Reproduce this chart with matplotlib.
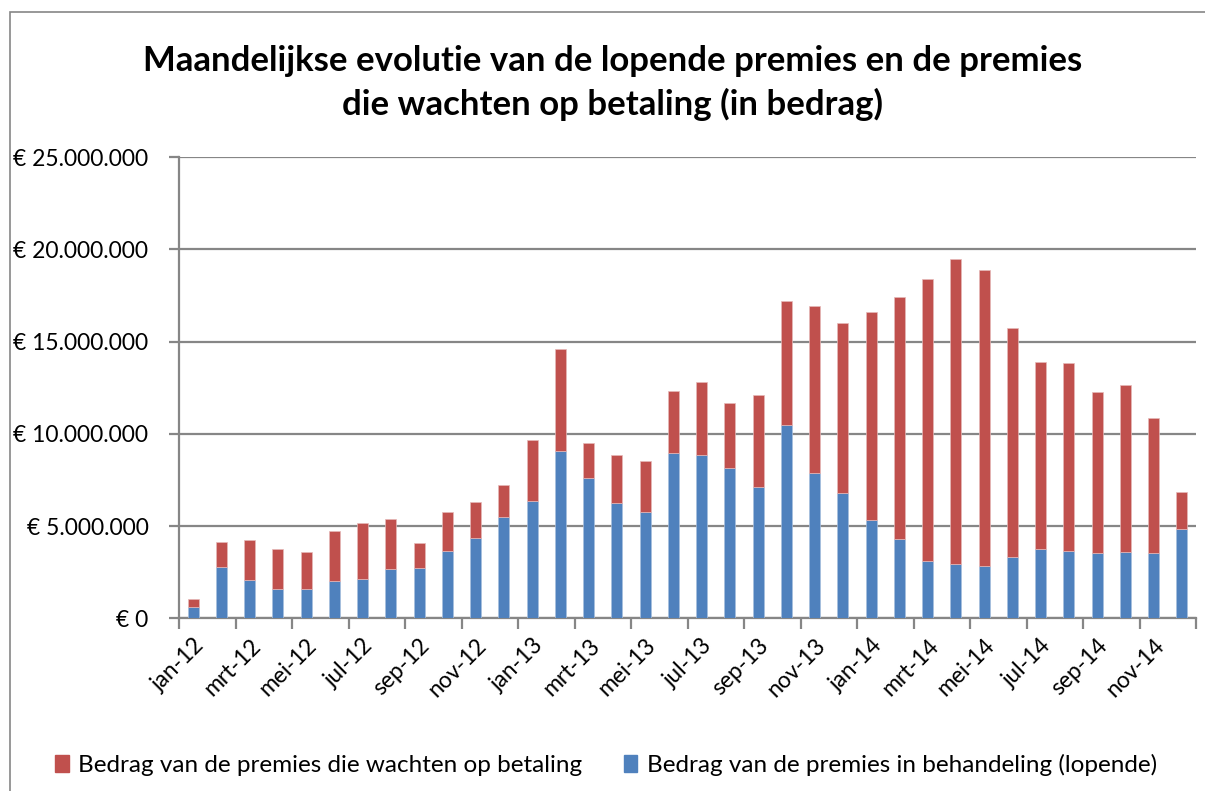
import numpy as np
import matplotlib.pyplot as plt
from matplotlib.patches import Rectangle, Patch
from matplotlib.ticker import FuncFormatter

# Monthly values (EUR millions), jan-12 .. dec-14
months = ["jan-12", "feb-12", "mrt-12", "apr-12", "mei-12", "jun-12",
          "jul-12", "aug-12", "sep-12", "okt-12", "nov-12", "dec-12",
          "jan-13", "feb-13", "mrt-13", "apr-13", "mei-13", "jun-13",
          "jul-13", "aug-13", "sep-13", "okt-13", "nov-13", "dec-13",
          "jan-14", "feb-14", "mrt-14", "apr-14", "mei-14", "jun-14",
          "jul-14", "aug-14", "sep-14", "okt-14", "nov-14", "dec-14"]

lopende = [0.63, 2.76, 2.06, 1.57, 1.57, 2.02, 2.11, 2.65, 2.74, 3.63, 4.35, 5.50,
           6.34, 9.05, 7.62, 6.25, 5.74, 8.94, 8.85, 8.13, 7.10, 10.45, 7.85, 6.77,
           5.31, 4.31, 3.10, 2.92, 2.83, 3.30, 3.74, 3.66, 3.52, 3.61, 3.52, 4.85]

totaal = [1.03, 4.12, 4.22, 3.74, 3.59, 4.71, 5.15, 5.38, 4.10, 5.74, 6.32, 7.22,
          9.64, 14.60, 9.51, 8.83, 8.50, 12.31, 12.80, 11.66, 12.11, 17.19, 16.94, 16.03,
          16.59, 17.40, 18.40, 19.46, 18.85, 15.74, 13.87, 13.81, 12.24, 12.64, 10.83, 6.86]

lopende = np.array(lopende) * 1e6
wachten = np.array(totaal) * 1e6 - lopende

red = "#C0504D"
blue = "#4F81BD"
grey = "#868686"

plt.rcParams['font.family'] = ['Lato', 'DejaVu Sans']

fig = plt.figure(figsize=(12.05, 7.91), dpi=100)
ax = fig.add_axes([179 / 1205, 1 - 618.3 / 791, (1196 - 179) / 1205, (618.3 - 157) / 791])

# outer chart border
fig.add_artist(Rectangle((10 / 1205, -0.05), 1.1, 1 - 12 / 791 + 0.05,
                         transform=fig.transFigure, fill=False,
                         edgecolor=grey, linewidth=1.2))

x = np.arange(len(months))
ax.bar(x, lopende, width=0.39, color=blue, edgecolor="#A7BFDE", linewidth=0.5, zorder=3)
ax.bar(x, wachten, width=0.39, bottom=lopende, color=red, edgecolor="#E6B9B8",
       linewidth=0.5, zorder=3)

ax.set_xlim(-0.5, len(months) - 0.5)
ax.set_ylim(0, 25e6)
ax.set_yticks(np.arange(0, 25e6 + 1, 5e6))
ax.yaxis.set_major_formatter(FuncFormatter(
    lambda v, p: "€ 0" if v == 0 else "€ " + f"{int(v):,}".replace(",", ".")))
ax.grid(axis="y", color=grey, linewidth=1.6, zorder=0)

# ticks at category boundaries, labels at category centres
ax.set_xticks(np.arange(-0.5, len(months), 2))
ax.set_xticklabels([])
ax.set_xticks(x[::2], minor=True)
ax.set_xticklabels(months[::2], minor=True, rotation=45, ha="right",
                   rotation_mode="anchor", fontsize=16.5)
ax.tick_params(axis="x", which="minor", length=0, pad=12)
ax.tick_params(axis="x", which="major", length=8, color=grey, width=1.6)
ax.tick_params(axis="y", length=7, color=grey, width=1.6, labelsize=16.5, pad=15)

for s in ["top", "right"]:
    ax.spines[s].set_visible(False)
for s in ["left", "bottom"]:
    ax.spines[s].set_color(grey)
    ax.spines[s].set_linewidth(1.6)

fig.text(0.508, 1 - 61 / 791, "Maandelijkse evolutie van de lopende premies en de premies",
         ha="center", va="center", fontsize=25, fontweight="bold")
fig.text(0.508, 1 - 104 / 791, "die wachten op betaling (in bedrag)",
         ha="center", va="center", fontsize=25, fontweight="bold")

handles = [Patch(color=red, label="Bedrag van de premies die wachten op betaling"),
           Patch(color=blue, label="Bedrag van de premies in behandeling (lopende)")]
fig.legend(handles=handles, loc="center", bbox_to_anchor=(0.503, 1 - 765 / 791),
           ncol=2, frameon=False, fontsize=17.5, handlelength=0.55, handleheight=0.7,
           handletextpad=0.4, columnspacing=1.7)

fig.savefig("out.png", dpi=100)
